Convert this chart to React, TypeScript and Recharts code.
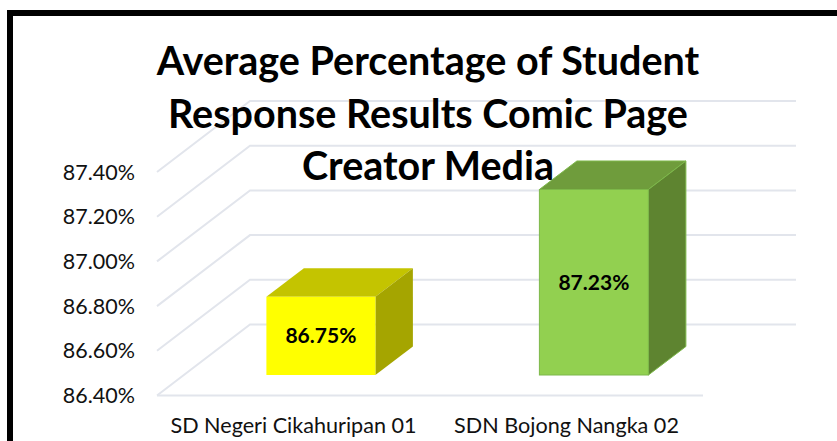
import React from "react";
import { BarChart, Bar, XAxis, YAxis, CartesianGrid, LabelList, Customized } from "recharts";

const schools = ["SD Negeri Cikahuripan 01", "SDN Bojong Nangka 02"];
const averages = [86.75, 87.23];
const yTicks = [86.4, 86.6, 86.8, 87.0, 87.2, 87.4];
const titleLines = ["Average Percentage of Student", "Response Results Comic Page", "Creator Media"];
const frontColors = ["#FFFF00", "#92D050"];
const topColors = ["#C4C400", "#6F9C3C"];
const sideColors = ["#A5A500", "#5E8430"];
const edgeColors = ["none", "#7DB84A"];

const rows = schools.map((school, i) => ({ school, average: averages[i], idx: i }));

const FONT = "Lato, sans-serif";
const WALL_DX = 93;
const WALL_DY = 71;
const BAR_DX = 27.5;
const BAR_DY = 20.5;
const BOX_DX = 37.5;
const BOX_DY = 28.5;
const GRID = "#E2E5EC";

const pct = (v: number) => `${v.toFixed(2)}%`;

function Box(props: any) {
  const { x, y, width, height, payload } = props;
  const i = payload.idx;
  const l = x + BAR_DX;
  const r = l + width;
  const t = y - BAR_DY;
  const b = t + height;
  const edge = edgeColors[i];
  return (
    <g stroke={edge} strokeWidth={edge === "none" ? 0 : 1}>
      <polygon points={`${l},${t} ${l + BOX_DX},${t - BOX_DY} ${r + BOX_DX},${t - BOX_DY} ${r},${t}`} fill={topColors[i]} />
      <polygon points={`${r},${t} ${r + BOX_DX},${t - BOX_DY} ${r + BOX_DX},${b - BOX_DY} ${r},${b}`} fill={sideColors[i]} />
      <rect x={l} y={t} width={width} height={height} fill={frontColors[i]} />
    </g>
  );
}

function BoxLabel(props: any) {
  const { x, y, width, height, value } = props;
  return (
    <text x={x + BAR_DX + width / 2} y={y - BAR_DY + height / 2} dy="0.36em" textAnchor="middle"
      fontFamily={FONT} fontWeight={700} fontSize={21} fill="#000">
      {pct(value)}
    </text>
  );
}

function WallLine(props: any) {
  const { x1, x2, y1 } = props;
  return (
    <polyline points={`${x1},${y1} ${x1 + WALL_DX},${y1 - WALL_DY} ${x2 + WALL_DX},${y1 - WALL_DY}`}
      fill="none" stroke={GRID} strokeWidth={2} />
  );
}

function Title() {
  return (
    <g>
      {titleLines.map((line, i) => (
        <text key={line} x={428} y={75 + i * 52.5} textAnchor="middle" fontFamily={FONT} fontWeight={700} fontSize={39.5} fill="#000">
          {line}
        </text>
      ))}
    </g>
  );
}

export default function App() {
  return (
    <div style={{ position: "absolute", left: 0, top: 0, width: 837, height: 441, background: "#fff", overflow: "hidden" }}>
      <div style={{ position: "absolute", left: 7, top: 10, width: 840, height: 440, borderLeft: "6px solid #000", borderTop: "6px solid #000" }} />
      <div style={{ position: "absolute", left: 0, top: 0 }}>
        <BarChart width={837} height={441} data={rows} barCategoryGap="30%" margin={{ top: 172, right: 134, bottom: 0, left: 0 }}>
          <CartesianGrid vertical={false} horizontal={(p: any) => <WallLine key={p.key ?? p.index} {...p} />} />
          <XAxis dataKey="school" height={45.5} tickLine={false} axisLine={{ stroke: GRID, strokeWidth: 2 }}
            tick={{ fontFamily: FONT, fontSize: 21.6, fill: "#111" }} tickMargin={16} interval={0} />
          <YAxis width={157} domain={[86.4, 87.4]} ticks={yTicks} tickFormatter={pct} axisLine={false} tickLine={false}
            tick={{ fontFamily: FONT, fontSize: 21.5, fill: "#111" }} tickMargin={16} />
          <Bar dataKey="average" isAnimationActive={false} shape={Box}>
            <LabelList dataKey="average" content={BoxLabel} />
          </Bar>
          <Customized component={Title} />
        </BarChart>
      </div>
    </div>
  );
}
